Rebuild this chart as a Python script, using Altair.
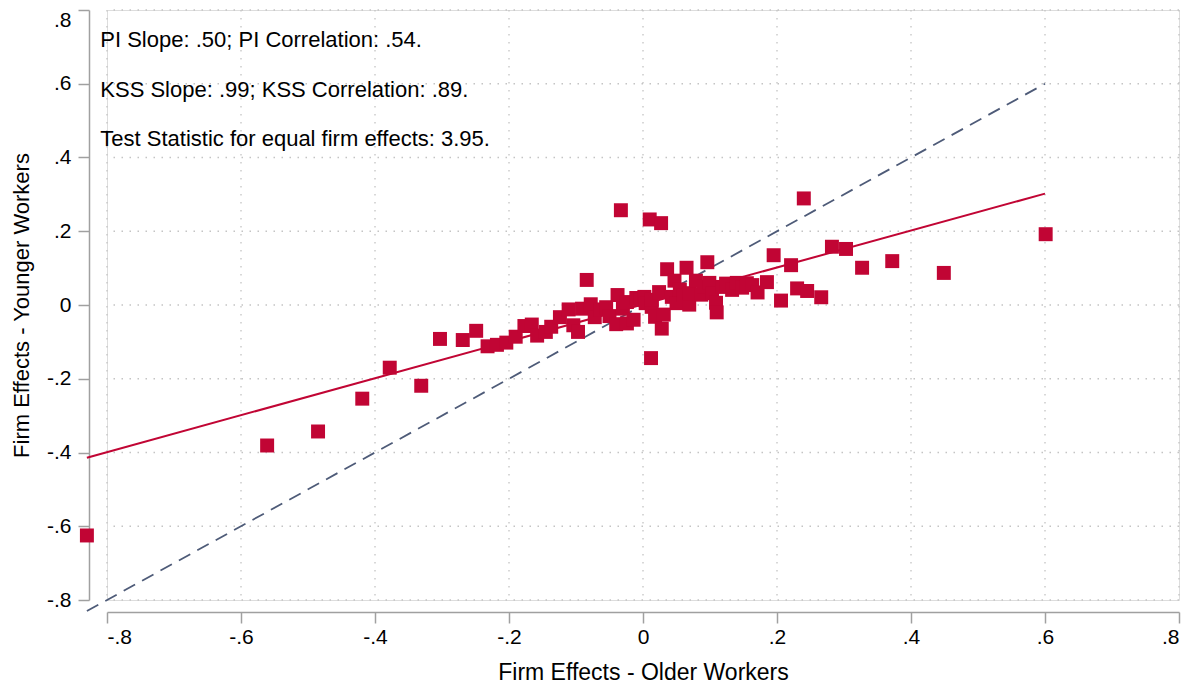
import altair as alt
import pandas as pd

# ---- data ----
older = [-0.830, -0.561, -0.485, -0.419, -0.378, -0.331, -0.303, -0.269, -0.249, -0.232,
         -0.218, -0.204, -0.190, -0.177, -0.166, -0.158, -0.145, -0.137, -0.124, -0.111,
         -0.104, -0.097, -0.091, -0.084, -0.078, -0.072, -0.064, -0.055, -0.050, -0.040,
         -0.038, -0.033, -0.030, -0.024, -0.024, -0.014, -0.010, -0.004, 0.002, 0.004,
         0.010, 0.012, 0.013, 0.013, 0.018, 0.024, 0.027, 0.028, 0.031, 0.036,
         0.043, 0.047, 0.050, 0.055, 0.061, 0.065, 0.069, 0.070, 0.079, 0.087,
         0.091, 0.096, 0.099, 0.103, 0.109, 0.110, 0.118, 0.124, 0.133, 0.140,
         0.148, 0.155, 0.163, 0.171, 0.185, 0.195, 0.206, 0.221, 0.230, 0.240,
         0.245, 0.266, 0.282, 0.303, 0.327, 0.372, 0.449, 0.601]
younger = [-0.625, -0.381, -0.343, -0.254, -0.170, -0.219, -0.092, -0.095, -0.070, -0.112,
           -0.108, -0.102, -0.086, -0.057, -0.053, -0.083, -0.073, -0.059, -0.033, -0.012,
           -0.055, -0.073, -0.010, 0.068, 0.002, -0.033, -0.012, -0.006, -0.030, -0.052,
           0.027, 0.257, -0.010, -0.050, 0.008, -0.040, 0.019, 0.014, 0.022, 0.005,
           0.232, -0.144, -0.005, 0.014, -0.032, 0.035, 0.222, -0.064, -0.026, 0.097,
           0.022, 0.066, 0.005, 0.042, 0.027, 0.101, 0.001, 0.032, 0.066, 0.028,
           0.049, 0.116, 0.060, 0.032, 0.006, -0.020, 0.049, 0.058, 0.041, 0.060,
           0.047, 0.059, 0.054, 0.034, 0.062, 0.135, 0.012, 0.108, 0.045, 0.289,
           0.038, 0.021, 0.158, 0.152, 0.101, 0.119, 0.087, 0.192]

# PI fit line and 45-degree line (end points)
fit_x = [-0.83, 0.60]
fit_y = [-0.414, 0.302]
diag_x = [-0.83, 0.60]
diag_y = [-0.83, 0.60]

tick_values = [-0.8, -0.6, -0.4, -0.2, 0.0, 0.2, 0.4, 0.6, 0.8]

notes = ["PI Slope: .50; PI Correlation: .54.",
         "KSS Slope: .99; KSS Correlation: .89.",
         "Test Statistic for equal firm effects: 3.95."]
note_x = [-0.810, -0.810, -0.810]
note_y = [0.718, 0.584, 0.450]

x_title = "Firm Effects - Older Workers"
y_title = "Firm Effects - Younger Workers"

# ---- tables ----
pts = pd.DataFrame({"x": older, "y": younger})
fit = pd.DataFrame({"x": fit_x, "y": fit_y})
diag = pd.DataFrame({"x": diag_x, "y": diag_y})
ticks = pd.DataFrame({"t": tick_values})
txt = pd.DataFrame({"x": note_x, "y": note_y, "label": notes})

FONT = "Liberation Sans"
RED = "#c10534"
label_expr = ("datum.value == 0 ? '0' : (datum.value < 0 ? '-' : '') + "
              "replace(format(abs(datum.value), '.1f'), '0.', '.')")

xscale = alt.Scale(domain=[-0.8, 0.8], nice=False, zero=False)
yscale = alt.Scale(domain=[-0.8, 0.8], nice=False, zero=False)

xaxis = alt.Axis(values=tick_values, labelExpr=label_expr, grid=False, offset=12,
                 tickSize=11, tickColor="#a0a0a0", domainColor="#a0a0a0",
                 domainWidth=1.5, tickWidth=1.5, labelFont=FONT, labelFontSize=21,
                 labelColor="#000000", labelPadding=3, title=x_title,
                 titleFont=FONT, titleFontSize=23, titleFontWeight="normal",
                 titleColor="#000000", titlePadding=14)
yaxis = alt.Axis(values=tick_values, labelExpr=label_expr, grid=False, offset=18,
                 tickSize=11, tickColor="#a0a0a0", domainColor="#a0a0a0",
                 domainWidth=1.5, tickWidth=1.5, labelFont=FONT, labelFontSize=21,
                 labelColor="#000000", labelPadding=7,
                 labelOffset={"condition": {"test": "datum.value >= 0.79", "value": 10},
                              "value": 0},
                 title=y_title,
                 titleFont=FONT, titleFontSize=22, titleFontWeight="normal",
                 titleColor="#000000", titlePadding=13)

grid_style = dict(color="#c4c4c4", strokeWidth=1.3, strokeDash=[1.5, 6.5])

vgrid = alt.Chart(ticks).mark_rule(**grid_style).encode(
    x=alt.X("t:Q", scale=xscale, axis=xaxis))
hgrid = alt.Chart(ticks).mark_rule(**grid_style).encode(
    y=alt.Y("t:Q", scale=yscale, axis=yaxis))

diag_line = alt.Chart(diag).mark_line(color="#4e5b78", strokeWidth=1.8,
                                      strokeDash=[13, 8]).encode(
    x=alt.X("x:Q", scale=xscale), y=alt.Y("y:Q", scale=yscale))
fit_line = alt.Chart(fit).mark_line(color=RED, strokeWidth=2).encode(
    x=alt.X("x:Q", scale=xscale), y=alt.Y("y:Q", scale=yscale))
points = alt.Chart(pts).mark_point(shape="square", filled=True, size=195,
                                   color=RED, opacity=1).encode(
    x=alt.X("x:Q", scale=xscale), y=alt.Y("y:Q", scale=yscale))
labels = alt.Chart(txt).mark_text(align="left", baseline="middle", font=FONT,
                                  fontSize=22, color="#000000").encode(
    x=alt.X("x:Q", scale=xscale), y=alt.Y("y:Q", scale=yscale), text="label:N")

chart = alt.layer(vgrid, hgrid, diag_line, fit_line, points, labels).properties(
    width=1072, height=590,
    autosize=alt.AutoSizeParams(type="none"),
    padding={"left": 99, "top": 2, "right": 7, "bottom": 88},
).configure_view(strokeWidth=0).configure(background="#ffffff")

chart.save("out.html", embed_options={"renderer": "svg", "actions": False})
